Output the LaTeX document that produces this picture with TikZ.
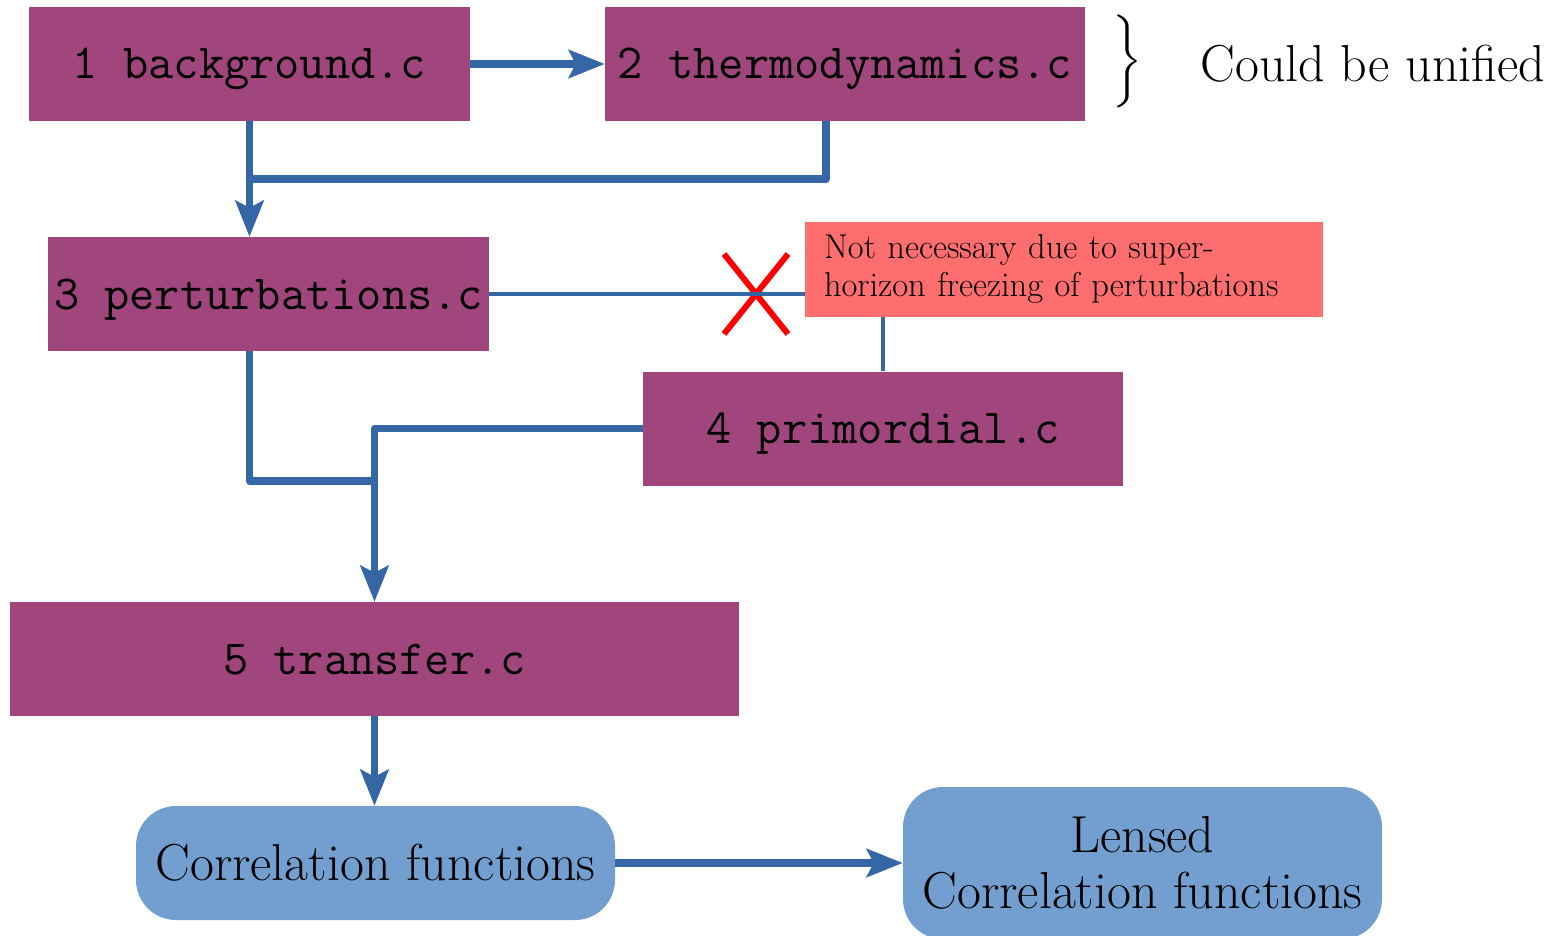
\documentclass[tikz,border=0pt]{standalone}
\usepackage{amsmath}
\usepackage{graphicx}
\usetikzlibrary{arrows.meta,shapes.misc}
\definecolor{boxpurple}{HTML}{A0467C}
\definecolor{lineblue}{HTML}{3566A6}
\definecolor{lightblue}{HTML}{729FCF}
\definecolor{notered}{HTML}{FF6E6E}
\begin{document}
\begin{tikzpicture}[x=1pt,y=-1pt,
  modbox/.style={fill=boxpurple, minimum width=#1, minimum height=114pt, inner sep=0pt,
    text height=30pt, text depth=0pt, font=\fontsize{49}{58}\selectfont\ttfamily},
  resbox/.style={fill=lightblue, rounded corners=40pt, minimum width=479pt, minimum height=#1,
    inner sep=0pt, align=center, font=\fontsize{52}{56}\selectfont},
  flow/.style={draw=lineblue, line width=7.5pt, line join=round},
  flowarrow/.style={flow, -{Stealth[length=36pt,width=28pt,inset=7pt]}},
  thin/.style={draw=lineblue, line width=3.5pt},
  notebox/.style={fill=notered, text width=480pt, minimum height=95pt, inner xsep=19pt, inner ysep=0pt,
    align=left, font=\fontsize{34.5}{38}\selectfont},
  bigtext/.style={font=\fontsize{52}{60}\selectfont, inner sep=0pt}
]
\useasboundingbox (0,0) rectangle (1551,936);

% nodes
\node[modbox=441pt] (b1) at (249.5,64) {1 background.c};
\node[modbox=480pt] (b2) at (845,64) {2 thermodynamics.c};
\node[modbox=441pt] (b3) at (268.5,294) {3 perturbations.c};
\node[modbox=480pt] (b4) at (883,428.5) {4 primordial.c};
\node[modbox=729pt] (b5) at (374.5,659) {5 transfer.c};
\node[resbox=114pt] (corr) at (375.5,863) {Correlation functions};
\node[resbox=152pt] (lens) at (1142.5,863) {Lensed\\Correlation functions};
\node[notebox] (note) at (1064,269.5) {Not necessary due to super-\\horizon freezing of perturbations};
\node[inner sep=0pt] (brace) at (1127,61.5) {\resizebox*{30pt}{93pt}{$\bigg\}$}};
\node[bigtext, anchor=base] (unif) at (1373,82) {Could be unified};
\node[cross out, draw=red, line width=6pt, minimum width=58pt, minimum height=74pt, inner sep=0pt] (cross) at (756,294) {};

% junction coordinates
\coordinate (j1) at (250,179);
\coordinate (j2) at (374.5,481);

% connectors
\draw[flowarrow] (b1.east) -- (b2.west);
\draw[flowarrow] (b1.south) -- (b1.south |- b3.north);
\draw[flow] ([xshift=-19pt]b2.south) |- (j1);
\draw[flow] (b1.south |- b3.south) |- (j2);
\draw[flowarrow] (b4.west) -| (b5.north);
\draw[flowarrow] (b5.south) -- (b5.south |- corr.north);
\draw[flowarrow] (corr.east) -- (lens.west);
\draw[thin] (b3.east) -- (b3.east -| note.west);
\draw[thin] (b4.north) -- (b4.north |- note.south);
\end{tikzpicture}
\end{document}
